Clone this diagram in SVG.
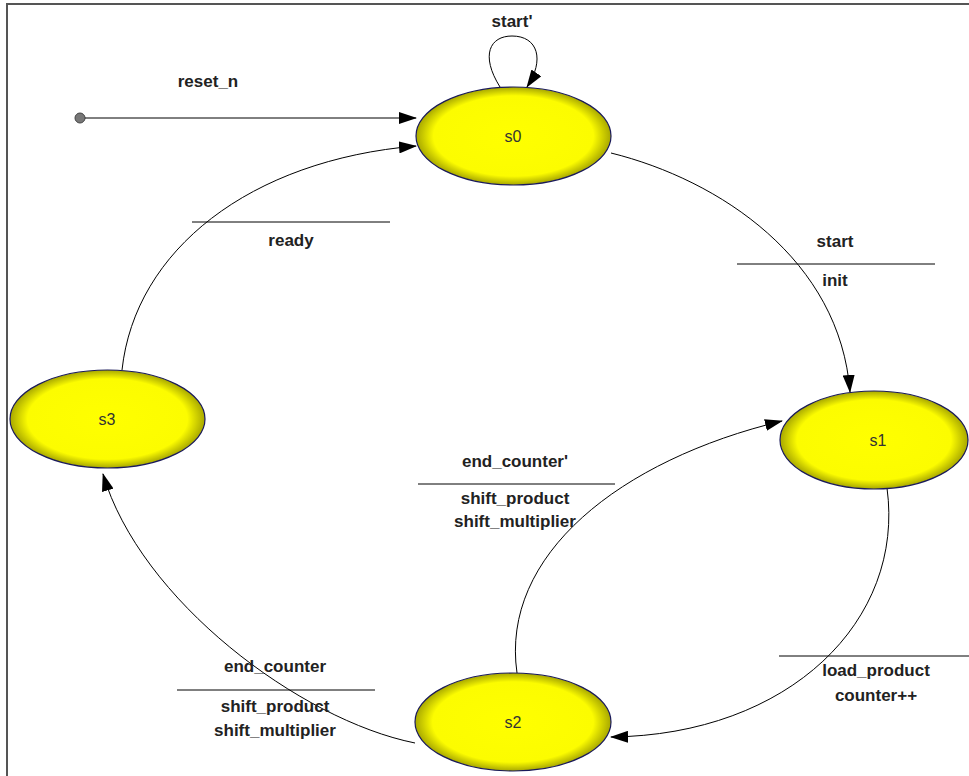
<svg xmlns="http://www.w3.org/2000/svg" width="969" height="776" viewBox="0 0 969 776">
<style>
.st{fill:url(#yg);stroke:#1a1a5a;stroke-width:1.2}
.sl{font-family:"Liberation Sans",Arial,sans-serif;font-size:16px;fill:#333;text-anchor:middle}
.lb{font-family:"Liberation Sans",Arial,sans-serif;font-size:17px;font-weight:bold;fill:#222;text-anchor:middle}
.cn{fill:none;stroke:#000;stroke-width:1;marker-end:url(#ah)}
.sep{stroke:#000;stroke-width:1}
</style>
<defs>
<radialGradient id="yg" cx="50%" cy="50%" r="50%">
<stop offset="0%" stop-color="#ffff00"/>
<stop offset="82%" stop-color="#fcfc00"/>
<stop offset="100%" stop-color="#a8a800"/>
</radialGradient>
<marker id="ah" markerWidth="18" markerHeight="12" refX="17" refY="6" orient="auto" markerUnits="userSpaceOnUse">
<path d="M0,0 L18,6 L0,12 Z" fill="#000"/>
</marker>
</defs>
<rect width="969" height="776" fill="#fff"/>
<path d="M7,776 V4 H969" fill="none" stroke="#555" stroke-width="2"/>
<g id="connectors">
<circle cx="80" cy="118" r="5" fill="#777" stroke="#444" stroke-width="1"/>
<path class="cn" d="M85,118 L416,118"/>
<path class="cn" d="M500,87 C480,55 490,36 512,36 C538,36 545,60 527,87"/>
<path class="cn" d="M611,153 C720,180 840,260 850,392"/>
<path class="cn" d="M122,370 C135,250 250,160 416,146"/>
<path class="cn" d="M887,488 C905,620 790,735 611,737"/>
<path class="cn" d="M517,673 C500,555 620,460 782,421"/>
<path class="cn" d="M415,743 C300,720 140,600 103,474"/>
<line class="sep" x1="737" y1="264" x2="935" y2="264"/>
<line class="sep" x1="192" y1="222" x2="390" y2="222"/>
<line class="sep" x1="779" y1="656" x2="969" y2="656"/>
<line class="sep" x1="418" y1="484" x2="615" y2="484"/>
<line class="sep" x1="177" y1="690" x2="375" y2="690"/>
<text class="lb" x="512" y="27">start'</text>
<text class="lb" x="208" y="87">reset_n</text>
<text class="lb" x="835" y="247">start</text>
<text class="lb" x="835" y="286">init</text>
<text class="lb" x="291" y="246">ready</text>
<text class="lb" x="515" y="467">end_counter'</text>
<text class="lb" x="515" y="504">shift_product</text>
<text class="lb" x="515" y="527">shift_multiplier</text>
<text class="lb" x="876" y="676">load_product</text>
<text class="lb" x="876" y="701">counter++</text>
<text class="lb" x="275" y="672">end_counter</text>
<text class="lb" x="275" y="712">shift_product</text>
<text class="lb" x="275" y="736">shift_multiplier</text>
</g>
<g id="s0"><ellipse class="st" cx="513.5" cy="136" rx="97.5" ry="49"/><text class="sl" x="513" y="142">s0</text></g>
<g id="s1"><ellipse class="st" cx="874" cy="440" rx="94" ry="49"/><text class="sl" x="878" y="446">s1</text></g>
<g id="s2"><ellipse class="st" cx="513" cy="722" rx="98" ry="49"/><text class="sl" x="513" y="728">s2</text></g>
<g id="s3"><ellipse class="st" cx="107.5" cy="419" rx="97.5" ry="49"/><text class="sl" x="107" y="425">s3</text></g>
</svg>
